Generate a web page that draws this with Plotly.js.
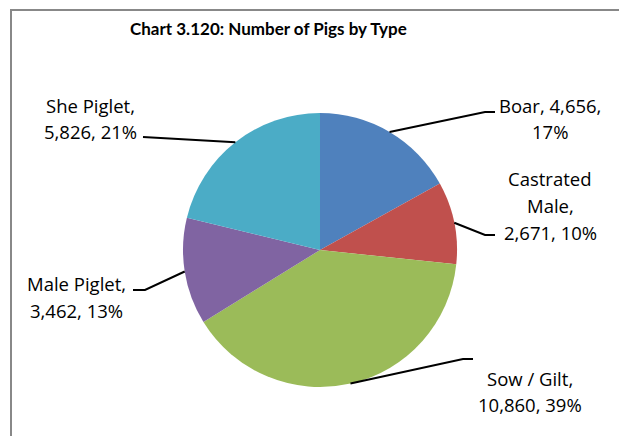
<!DOCTYPE html>
<html>
<head>
<meta charset="utf-8">
<script src="https://cdn.plot.ly/plotly-3.0.1.min.js"></script>
<style>html,body{margin:0;padding:0;background:#fff;}#chart{width:619px;height:436px;}</style>
</head>
<body>
<div id="chart"></div>
<script>
// Data
const categories = ["Boar", "Castrated Male", "Sow / Gilt", "Male Piglet", "She Piglet"];
const values = [4656, 2671, 10860, 3462, 5826];
const labelLines = [
  ["Boar, 4,656,", "17%"],
  ["Castrated", "Male,", "2,671, 10%"],
  ["Sow / Gilt,", "10,860, 39%"],
  ["Male Piglet,", "3,462, 13%"],
  ["She Piglet,", "5,826, 21%"]
];
const colors = ["#4F81BD", "#C0504D", "#9BBB59", "#8064A2", "#4BACC6"];

// Layout (pixels)
const W = 619, H = 436;
const cx = 320, cy = 250, R = 137;
// label placement: elbow point, end of leader, text centre x, first line y, line gap
const labelLayout = [
  {elbow:[485,112], end:[495,112], tx:550, ty:105, gap:27},
  {elbow:[485,235], end:[495,235], tx:550, ty:178, gap:27},
  {elbow:[463,359], end:[473,359], tx:530, ty:378, gap:26},
  {elbow:[145,290], end:[133,290], tx:76,  ty:283, gap:27},
  {elbow:[143,137], end:[143,137], tx:90,  ty:105, gap:27}
];

const px = x => x / W;
const py = y => 1 - y / H;

const total = values.reduce((a,b)=>a+b,0);
const shapes = [];
const annotations = [];
let cum = 0;
values.forEach((v,i)=>{
  const mid = (cum + v/2) / total * 2 * Math.PI;
  cum += v;
  const sx = cx + R * Math.sin(mid), sy = cy - R * Math.cos(mid);
  const L = labelLayout[i];
  shapes.push({type:'path', xref:'paper', yref:'paper',
    path:`M ${px(sx)},${py(sy)} L ${px(L.elbow[0])},${py(L.elbow[1])} L ${px(L.end[0])},${py(L.end[1])}`,
    line:{color:'#000', width:2}});
  labelLines[i].forEach((t,k)=>{
    annotations.push({xref:'paper', yref:'paper', x:px(L.tx), y:py(L.ty + k*L.gap),
      xanchor:'center', yanchor:'middle', text:t, showarrow:false, align:'center',
      font:{family:'"Open Sans", Lato, sans-serif', size:18.5, color:'#000'}});
  });
});

// chart border
shapes.push({type:'rect', xref:'paper', yref:'paper', x0:px(11), x1:px(700), y0:py(500), y1:py(10),
  line:{color:'#888', width:2}, fillcolor:'rgba(0,0,0,0)'});

annotations.push({xref:'paper', yref:'paper', x:px(268), y:py(28), xanchor:'center', yanchor:'middle',
  text:'<b>Chart 3.120: Number of Pigs by Type</b>', showarrow:false,
  font:{family:'Lato, "Open Sans", sans-serif', size:17, color:'#000'}});

const trace = {
  type:'pie', labels:categories, values:values, sort:false, direction:'clockwise', rotation:0,
  marker:{colors:colors, line:{width:0}}, textinfo:'none', hoverinfo:'label+value+percent',
  domain:{x:[px(cx-R), px(cx+R)], y:[py(cy+R), py(cy-R)]}
};

Plotly.newPlot('chart', [trace], {
  width:W, height:H, margin:{l:0,r:0,t:0,b:0}, showlegend:false,
  paper_bgcolor:'#fff', plot_bgcolor:'#fff', shapes:shapes, annotations:annotations
}, {displayModeBar:false, staticPlot:true});
</script>
</body>
</html>
